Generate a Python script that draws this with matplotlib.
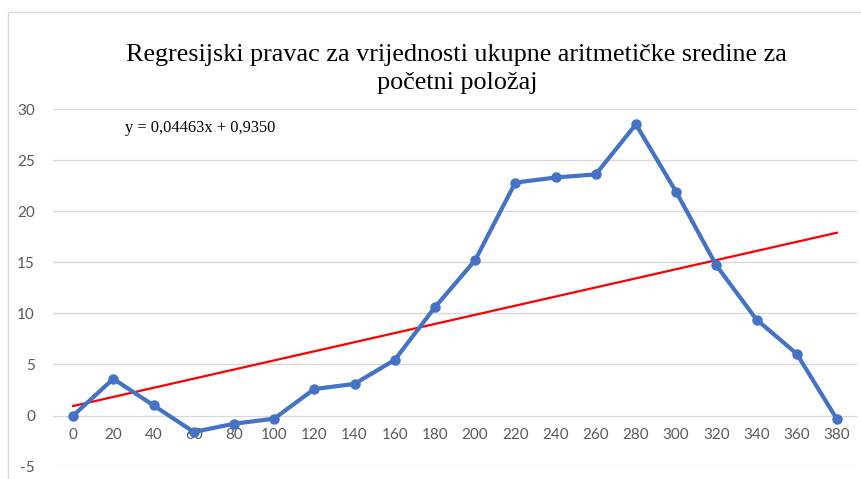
import numpy as np
import matplotlib.pyplot as plt
from matplotlib.patches import Rectangle

plt.rcParams['axes.unicode_minus'] = False

# polozaj (x) i ukupna aritmeticka sredina (y)
x_vals = [0, 20, 40, 60, 80, 100, 120, 140, 160, 180,
          200, 220, 240, 260, 280, 300, 320, 340, 360, 380]
y_vals = [0.0, 3.6, 1.0, -1.6, -0.8, -0.3, 2.6, 3.1, 5.45, 10.6,
          15.2, 22.8, 23.3, 23.6, 28.5, 21.9, 14.7, 9.4, 6.05, -0.35]
slope = 0.04463
intercept = 0.9350
y_ticks = [-5, 0, 5, 10, 15, 20, 25, 30]

title = "Regresijski pravac za vrijednosti ukupne aritmetičke sredine za\npočetni položaj"
eq_text = "y = 0,04463x + 0,9350"

fig = plt.figure(figsize=(8.62, 4.79), dpi=100)
ax = fig.add_axes([0.0615, 0.0257, 0.9327, 0.7467])

# okvir grafikona
fig.patches.append(Rectangle((8/862, -0.1), 1.0, 1.1 - 12/479, transform=fig.transFigure,
                             fill=False, edgecolor='#D9D9D9', linewidth=1.0))

for t in y_ticks:
    ax.axhline(t, color='#D9D9D9', linewidth=1.0, zorder=0)

x = np.array(x_vals)
ax.plot(x, slope * x + intercept, color='#FF0000', linewidth=1.6, zorder=2)
ax.plot(x_vals, y_vals, color='#4472C4', linewidth=3.0, marker='o', markersize=6.5,
        zorder=3, solid_capstyle='round')

ax.set_xlim(-10, 390)
ax.set_ylim(-5, 30)
ax.set_yticks(y_ticks)
ax.set_xticks(x_vals)
ax.set_xticklabels([str(v) for v in x_vals])
for s in ax.spines.values():
    s.set_visible(False)
ax.spines['bottom'].set_position(('data', 0))
ax.tick_params(axis='both', length=0, labelsize=11, labelcolor='#595959')
ax.tick_params(axis='x', pad=9)
ax.tick_params(axis='y', pad=13)
for lab in ax.get_xticklabels() + ax.get_yticklabels():
    lab.set_fontfamily('Lato')

fig.text(0.530, 0.856, title, ha='center', va='center', fontsize=18.8,
         family='Liberation Serif', linespacing=1.4)
fig.text(0.1450, 0.733, eq_text, ha='left', va='center',
         fontsize=11.8, family='Liberation Serif')

fig.savefig('out.png', dpi=100)
